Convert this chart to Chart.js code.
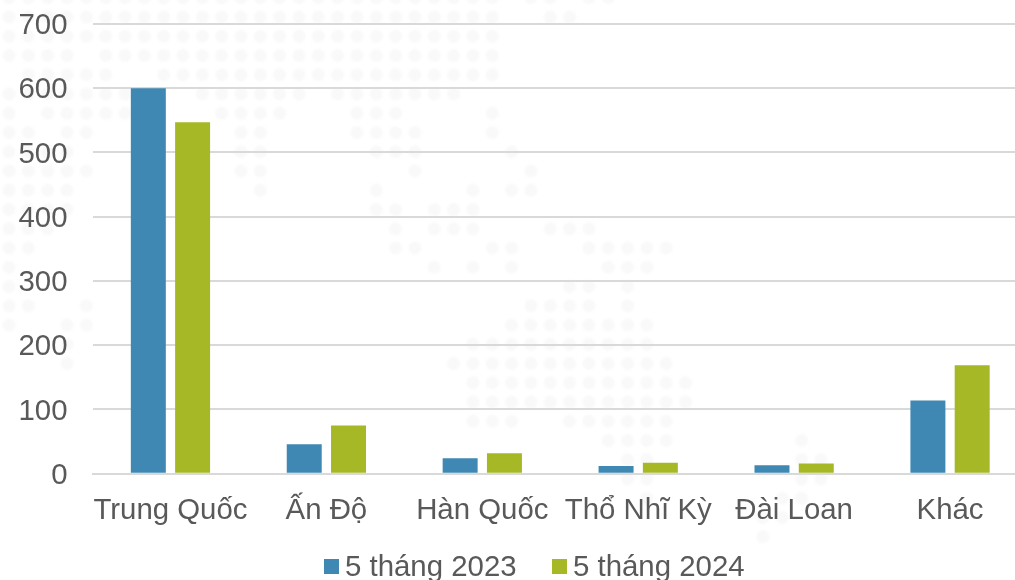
<!DOCTYPE html>
<html>
<head>
<meta charset="utf-8">
<style>
  html, body { margin: 0; padding: 0; background: #fff; width: 1015px; height: 580px; overflow: hidden; }
  #wrap { position: relative; width: 1015px; height: 580px; overflow: hidden; }
  #myChart { position: absolute; left: 0; top: 0; }
  #legend { position: absolute; left: 324px; top: 549px; white-space: nowrap; font: 29.4px "Liberation Sans", Arial, sans-serif; color: #595959; line-height: 34px; }
  #legend span.item { position: absolute; top: 0; }
  #legend i { position: absolute; left: 0; top: 10px; width: 15px; height: 15px; }
  #legend b { position: absolute; left: 21px; top: 0; font-weight: normal; }
</style>
</head>
<body>
<div id="wrap">
  <canvas id="myChart" width="1028" height="580"></canvas>
  <div id="legend"></div>
</div>
<script src="https://cdn.jsdelivr.net/npm/chart.js@4"></script>
<script>
var categories = ["Trung Quốc", "Ấn Độ", "Hàn Quốc", "Thổ Nhĩ Kỳ", "Đài Loan", "Khác"];
var seriesNames = ["5 tháng 2023", "5 tháng 2024"];
var values2023 = [600, 46, 24, 12, 13, 114];
var values2024 = [547, 75, 32, 17, 16, 169];
var yTicks = [0, 100, 200, 300, 400, 500, 600, 700];
var colors = ["#3f88b3", "#a6b826"];
var textColor = "#595959";
var fontName = '"Liberation Sans", Arial, sans-serif';

// faint dotted world map behind the chart: row number, then [from, to] dot runs
var mapRows = [
    [-1, [0, 25], [27, 28], [30, 31]],
    [0, [0, 25], [28, 29]],
    [1, [0, 25]],
    [2, [0, 3], [5, 25]],
    [3, [1, 5], [8, 25]],
    [4, [0, 6], [10, 15], [17, 23]],
    [5, [0, 0], [2, 6], [11, 14], [18, 20], [25, 25]],
    [6, [0, 1], [3, 4], [12, 13], [18, 21], [25, 25]],
    [7, [0, 3], [12, 13], [19, 21], [26, 26]],
    [8, [0, 4], [12, 13], [21, 21], [27, 27]],
    [9, [0, 3], [13, 13], [19, 19], [24, 24], [26, 27]],
    [10, [0, 3], [19, 20], [22, 24]],
    [11, [0, 2], [20, 20], [22, 24], [28, 30]],
    [12, [0, 1], [20, 21], [25, 26], [30, 34]],
    [13, [0, 0], [22, 22], [24, 24], [26, 26], [31, 33]],
    [14, [0, 0], [29, 30], [32, 32]],
    [15, [0, 1], [4, 4], [27, 30], [32, 32]],
    [16, [0, 0], [3, 4], [26, 33]],
    [17, [3, 3], [24, 33]],
    [18, [3, 3], [23, 34]],
    [19, [24, 35]],
    [20, [24, 35]],
    [21, [24, 26], [29, 34]],
    [22, [31, 34], [41, 41]],
    [23, [32, 33], [41, 42]],
    [24, [32, 33], [41, 42]],
    [25, [33, 33], [40, 41]],
    [26, [39, 40]],
    [27, [39, 39]]
];

var dotMap = {
    id: "dotMap",
    beforeDraw: function (chart) {
        var c = chart.ctx;
        c.save();
        c.fillStyle = "#f9f9f9";
        c.filter = "blur(1px)";
        mapRows.forEach(function (row) {
            row.slice(1).forEach(function (run) {
                for (var k = run[0]; k <= run[1]; k++) {
                    c.beginPath();
                    c.arc(9 + 19.33 * k, 17 + 19.25 * row[0], 6.5, 0, Math.PI * 2);
                    c.fill();
                }
            });
        });
        c.restore();
        // y labels sit 2px lower than chart.js centres them
        chart.scales.y.getLabelItems(chart.chartArea).forEach(function (item) {
            item.textOffset += 2;
        });
    }
};

var ctx = document.getElementById("myChart");
new Chart(ctx, {
    type: "bar",
    data: {
        labels: categories,
        datasets: [
            { label: seriesNames[0], data: values2023, backgroundColor: colors[0] },
            { label: seriesNames[1], data: values2024, backgroundColor: colors[1] }
        ]
    },
    options: {
        responsive: false,
        animation: false,
        layout: { autoPadding: false, padding: { top: 24, right: 0, bottom: 0, left: 0 } },
        categoryPercentage: 0.568,
        barPercentage: 0.79,
        plugins: {
            legend: { display: false },
            tooltip: { enabled: false }
        },
        scales: {
            x: {
                grid: { display: false, drawTicks: false },
                border: { color: "#d9d9d9", width: 2 },
                ticks: {
                    color: textColor,
                    font: { family: fontName, size: 29.4 },
                    padding: 20,
                    maxRotation: 0,
                    autoSkip: false
                },
                afterFit: function (scale) { scale.height = 106.3; }
            },
            y: {
                min: 0,
                max: 700,
                afterBuildTicks: function (scale) {
                    scale.ticks = yTicks.map(function (v) { return { value: v }; });
                },
                grid: { color: "#d9d9d9", lineWidth: 2, drawTicks: false },
                border: { display: false },
                ticks: {
                    color: textColor,
                    font: { family: fontName, size: 29.4 },
                    padding: 25
                },
                afterFit: function (scale) {
                    scale.width = 92.5;
                    scale.paddingTop = 0;
                    scale.paddingBottom = 0;
                }
            }
        }
    },
    plugins: [dotMap]
});

// legend keeps the tight swatch/text gap of the original
var legend = document.getElementById("legend");
seriesNames.forEach(function (name, i) {
    var item = document.createElement("span");
    item.className = "item";
    item.style.left = (i * 228) + "px";
    item.innerHTML = '<i style="background:' + colors[i] + '"></i><b>' + name + "</b>";
    legend.appendChild(item);
});
</script>
</body>
</html>
